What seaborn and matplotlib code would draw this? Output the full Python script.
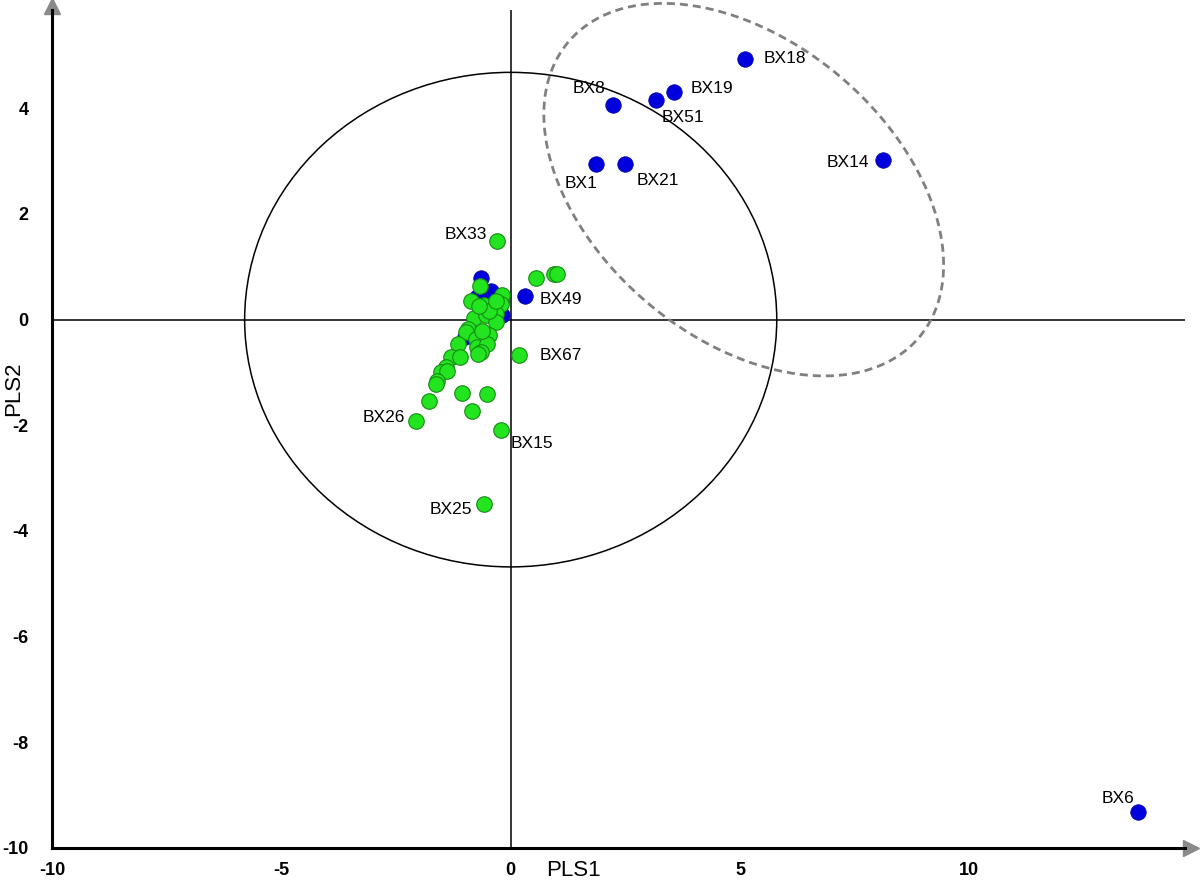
import numpy as np
import pandas as pd
import matplotlib
matplotlib.use('Agg')
import matplotlib.pyplot as plt
from matplotlib.patches import Ellipse
import seaborn as sns

# blue samples (labelled ones + the ones hidden in the central cluster)
blue_names = ['BX18', 'BX19', 'BX51', 'BX8', 'BX1', 'BX21', 'BX14', 'BX49', 'BX6',
              '', '', '', '', '', '', '']
blue_x = [5.10, 3.56, 3.17, 2.24, 1.87, 2.49, 8.12, 0.31, 13.67,
          -0.65, -0.44, -0.73, -0.49, -0.22, -0.18, -1.00]
blue_y = [4.94, 4.31, 4.15, 4.07, 2.95, 2.95, 3.03, 0.45, -9.32,
          0.79, 0.55, 0.42, 0.39, 0.36, 0.09, -0.33]

# green samples
green_names = ['BX33', 'BX26', 'BX15', 'BX25', 'BX67'] + [''] * 36
green_x = [-0.29, -2.07, -0.22, -0.59, 0.18,
           0.56, 0.94, 1.02, -0.68, -0.18, -0.22, -0.87, -0.58, -0.33, -0.81,
           -0.54, -0.31, -0.94, -0.98, -0.47, -0.76, -0.73, -0.52, -1.15, -0.65,
           -0.72, -1.31, -1.10, -1.42, -1.53, -1.39, -1.61, -1.63, -1.78, -1.07,
           -0.52, -0.84, -0.47, -0.62, -0.33, -0.70]
green_y = [1.49, -1.91, -2.09, -3.49, -0.67,
           0.79, 0.86, 0.87, 0.64, 0.47, 0.30, 0.36, 0.27, 0.11, 0.04,
           0.08, -0.05, -0.18, -0.24, -0.30, -0.37, -0.52, -0.46, -0.46, -0.62,
           -0.65, -0.71, -0.70, -0.90, -1.00, -0.97, -1.16, -1.22, -1.54, -1.38,
           -1.41, -1.72, 0.17, -0.21, 0.36, 0.25]

# label placement (pixel offsets of the text centre from the point)
label_offsets = {
    'BX18': (40, 0), 'BX19': (38, 3), 'BX51': (27, -17), 'BX8': (-24, 16),
    'BX1': (-15, -20), 'BX21': (33, -17), 'BX14': (-35, -3), 'BX49': (36, -4),
    'BX6': (-20, 14), 'BX33': (-32, 6), 'BX26': (-32, 3), 'BX15': (31, -13),
    'BX25': (-33, -5), 'BX67': (42, 0),
}

# confidence ellipse (solid) and group ellipse (dashed)
hot_width, hot_height = 11.6, 9.36
grp_center = np.array([5.08, 2.46])
grp_cov = np.array([[18.99, -6.20], [-6.20, 12.43]])

blue_df = pd.DataFrame({'pls1': blue_x, 'pls2': blue_y, 'name': blue_names})
green_df = pd.DataFrame({'pls1': green_x, 'pls2': green_y, 'name': green_names})

sns.set_style('white')
plt.rcParams['font.family'] = ['Liberation Sans', 'DejaVu Sans']
plt.rcParams['axes.unicode_minus'] = False
plt.rcParams['text.color'] = 'black'
plt.rcParams['axes.labelcolor'] = 'black'

fig = plt.figure(figsize=(12, 8.82), dpi=100)
ax = fig.add_axes([52 / 1200, 34 / 882, (1185 - 52) / 1200, (848 - 10) / 882])

ax.axhline(0, color='black', lw=1.1, zorder=1)
ax.axvline(0, color='black', lw=1.1, zorder=1)

ax.add_patch(Ellipse((0, 0), hot_width, hot_height, fill=False, ec='black', lw=1.1, zorder=2))

t = np.linspace(0, 2 * np.pi, 300)
L = np.linalg.cholesky(grp_cov)
ell = grp_center + (L @ np.vstack([np.cos(t), np.sin(t)])).T
ax.plot(ell[:, 0], ell[:, 1], color='#808080', lw=2, ls=(0, (2.9, 1.8)), clip_on=False, zorder=2)

sns.scatterplot(data=blue_df, x='pls1', y='pls2', color='#0000dd', edgecolor='#00009a',
                linewidth=0.5, s=125, ax=ax, legend=False, zorder=3)
sns.scatterplot(data=green_df, x='pls1', y='pls2', color='#22e41f', edgecolor='#178a14',
                linewidth=0.8, s=125, ax=ax, legend=False, zorder=4)

for df in (blue_df, green_df):
    for _, r in df.iterrows():
        if r['name']:
            dx, dy = label_offsets[r['name']]
            ax.annotate(r['name'], (r['pls1'], r['pls2']), xytext=(dx, dy),
                        textcoords='offset pixels', ha='center', va='center',
                        fontsize=12.5, color='black', zorder=5)

ax.set_xlim(-10, 14.7)
ax.set_ylim(-10, 5.86)
ax.set_xticks([-10, -5, 0, 5, 10])
ax.set_yticks([4, 2, 0, -2, -4, -6, -8, -10])
ax.set_xticks([-7.5, -2.5, 2.5, 7.5, 12.5], minor=True)
ax.set_yticks([5, 3, 1, -1, -3, -5, -7, -9], minor=True)
ax.tick_params(which='both', direction='out', color='#999999', width=0.8, labelcolor='black')
ax.tick_params(which='major', length=4)
ax.tick_params(which='minor', length=3)
ax.tick_params(axis='x', pad=6)
ax.tick_params(axis='y', pad=13)
for lab in ax.get_xticklabels() + ax.get_yticklabels():
    lab.set_fontweight('bold')
    lab.set_fontsize(13)

for side in ['top', 'right']:
    ax.spines[side].set_visible(False)
for side in ['left', 'bottom']:
    ax.spines[side].set_color('black')
    ax.spines[side].set_linewidth(2.2)

ax.set_xlabel('PLS1', fontsize=16)
ax.xaxis.set_label_coords((573 - 52) / 1133, (848 - 870) / 838)
ax.xaxis.label.set_va('center')
ax.set_ylabel('PLS2', fontsize=16)
ax.yaxis.set_label_coords((14 - 52) / 1133, (848 - 389) / 838)
ax.yaxis.label.set_va('center')

# arrow heads at the axis ends
ax.plot([1.0055], [0], marker='>', ms=11, color='#8a8a8a', transform=ax.transAxes, clip_on=False)
ax.plot([0], [1.0045], marker='^', ms=11, color='#8a8a8a', transform=ax.transAxes, clip_on=False)

fig.savefig('out.png', dpi=100)
